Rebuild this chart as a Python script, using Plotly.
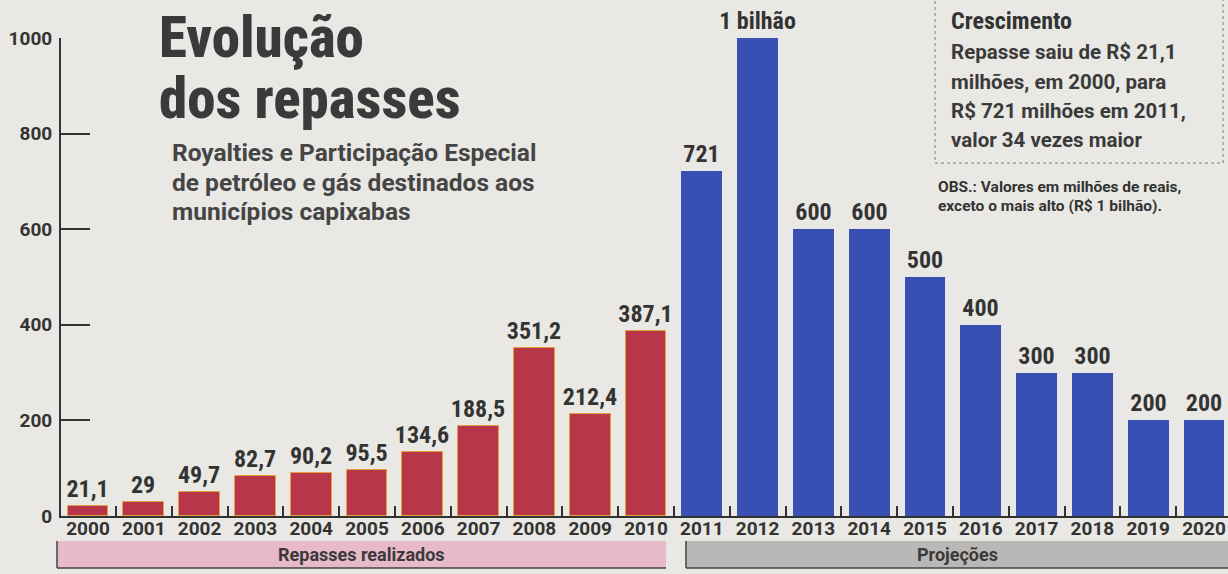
import plotly.graph_objects as go

# ---- data ----
years_real = [2000, 2001, 2002, 2003, 2004, 2005, 2006, 2007, 2008, 2009, 2010]
vals_real = [21.1, 29, 49.7, 82.7, 90.2, 95.5, 134.6, 188.5, 351.2, 212.4, 387.1]
labels_real = ["21,1", "29", "49,7", "82,7", "90,2", "95,5", "134,6", "188,5", "351,2", "212,4", "387,1"]

years_proj = [2011, 2012, 2013, 2014, 2015, 2016, 2017, 2018, 2019, 2020]
vals_proj = [721, 1000, 600, 600, 500, 400, 300, 300, 200, 200]
labels_proj = ["721", "1 bilhão", "600", "600", "500", "400", "300", "300", "200", "200"]

y_ticks = [0, 200, 400, 600, 800, 1000]
all_years = years_real + years_proj

COND = "Roboto Condensed, Liberation Sans Narrow, Roboto, Arial, sans-serif"
FONT = "Roboto, Arial, sans-serif"
DARK = "#333333"
BG = "#e9e8e4"

fig = go.Figure()

fig.add_trace(go.Bar(
    x=years_real, y=vals_real, text=labels_real,
    textposition="outside", cliponaxis=False, constraintext="none",
    textfont=dict(family=COND, size=24, color=DARK, weight="bold"),
    marker=dict(color="#b83649", line=dict(color="#e3a33c", width=1)),
    width=0.73, showlegend=False, hoverinfo="skip",
))
fig.add_trace(go.Bar(
    x=years_proj, y=vals_proj, text=labels_proj,
    textposition="outside", cliponaxis=False, constraintext="none",
    textfont=dict(family=COND, size=24, color=DARK, weight="bold"),
    marker=dict(color="#384fb3", line=dict(width=0)),
    width=0.73, showlegend=False, hoverinfo="skip",
))
# invisible trace to anchor the boundary-tick axis
fig.add_trace(go.Scatter(x=[all_years[0]], y=[0], xaxis="x2", mode="markers",
                         marker=dict(opacity=0), showlegend=False, hoverinfo="skip"))

xr = [all_years[0] - 0.484, all_years[-1] + 0.43]

fig.update_layout(
    width=1228, height=574,
    margin=dict(l=61, r=0, t=38, b=58),
    paper_bgcolor=BG, plot_bgcolor="rgba(0,0,0,0)",
    font=dict(family=FONT, color=DARK),
    bargap=0,
    xaxis=dict(
        range=xr, tickvals=all_years, ticktext=[str(y) for y in all_years],
        tickfont=dict(family=FONT, size=19, color=DARK, weight="bold"),
        ticks="", showgrid=False, zeroline=False, ticklabelstandoff=-6,
        showline=True, linecolor=DARK, linewidth=2,
    ),
    xaxis2=dict(
        range=xr, overlaying="x", anchor="y", side="bottom",
        tickvals=[y + 0.5 for y in all_years[:-1]],
        ticks="inside", ticklen=10, tickwidth=1.5, tickcolor=DARK,
        showticklabels=False, showgrid=False, zeroline=False, showline=False,
    ),
    yaxis=dict(
        range=[0, 1000], tickvals=y_ticks, ticktext=[str(v) for v in y_ticks],
        tickfont=dict(family=FONT, size=19, color=DARK, weight="bold"),
        ticks="inside", ticklen=29, tickwidth=2, tickcolor=DARK,
        showgrid=False, zeroline=False, ticklabelstandoff=3,
        showline=True, linecolor=DARK, linewidth=2,
    ),
)

PW, PH = 1167.0, 478.0
def px(x):
    return (x - 61) / PW
def py(y):
    return (516 - y) / PH

shapes = []
# bottom bands
shapes.append(dict(type="rect", xref="paper", yref="paper",
                   x0=px(57), x1=px(666), y0=py(568), y1=py(541),
                   fillcolor="#e7b9c9", line=dict(width=0), layer="below"))
shapes.append(dict(type="rect", xref="paper", yref="paper",
                   x0=px(686), x1=px(1228), y0=py(568), y1=py(541),
                   fillcolor="#b9b8b6", line=dict(width=0), layer="below"))
for x0, x1 in [(57, 666), (686, 1228)]:
    shapes.append(dict(type="line", xref="paper", yref="paper",
                       x0=px(x0), x1=px(x1), y0=py(568), y1=py(568),
                       line=dict(color="#444444", width=1.5)))
    shapes.append(dict(type="line", xref="paper", yref="paper",
                       x0=px(x0), x1=px(x0), y0=py(541), y1=py(568),
                       line=dict(color="#444444", width=1.5)))
# dashed box
shapes.append(dict(type="rect", xref="paper", yref="paper",
                   x0=px(935), x1=px(1223), y0=py(163), y1=py(-2),
                   fillcolor="rgba(0,0,0,0)",
                   line=dict(color="#7a7a7a", width=1, dash="3px,3px")))
fig.update_layout(shapes=shapes)

ann = []
def txt(x, y, s, size, weight="bold", color=DARK, xanchor="left", yanchor="middle", family=FONT):
    ann.append(dict(xref="paper", yref="paper", x=px(x), y=py(y), text=s,
                    showarrow=False, xanchor=xanchor, yanchor=yanchor, align="left",
                    font=dict(family=family, size=size, color=color, weight=weight)))

txt(157, 37, "Evolução", 57, weight=800, color="#3a3a3a", family=COND)
txt(157, 98, "dos repasses", 57, weight=800, color="#3a3a3a", family=COND)
txt(170, 152, "Royalties e Participação Especial", 24.5, weight="bold", color="#454545")
txt(170, 182, "de petróleo e gás destinados aos", 24.5, weight="bold", color="#454545")
txt(170, 211, "municípios capixabas", 24.5, weight="bold", color="#454545")

txt(949, 21, "Crescimento", 24, weight="bold", color="#333333", family=COND)
txt(949, 52, "Repasse saiu de R$ 21,1", 20.5, weight="bold", color="#3a3a3a")
txt(949, 82, "milhões, em 2000, para", 20.5, weight="bold", color="#3a3a3a")
txt(949, 111, "R$ 721 milhões em 2011,", 20.5, weight="bold", color="#3a3a3a")
txt(949, 140, "valor 34 vezes maior", 20.5, weight="bold", color="#3a3a3a")

txt(936, 187, "OBS.: Valores em milhões de reais,", 15.5, weight="bold", color="#333333")
txt(936, 206, "exceto o mais alto (R$ 1 bilhão).", 15.5, weight="bold", color="#333333")

txt(361, 554, "Repasses realizados", 18, weight="bold", color="#3a3a3a", xanchor="center")
txt(957, 554, "Projeções", 18, weight="bold", color="#3a3a3a", xanchor="center")

fig.update_layout(annotations=ann)

fig.write_html("out.html")
